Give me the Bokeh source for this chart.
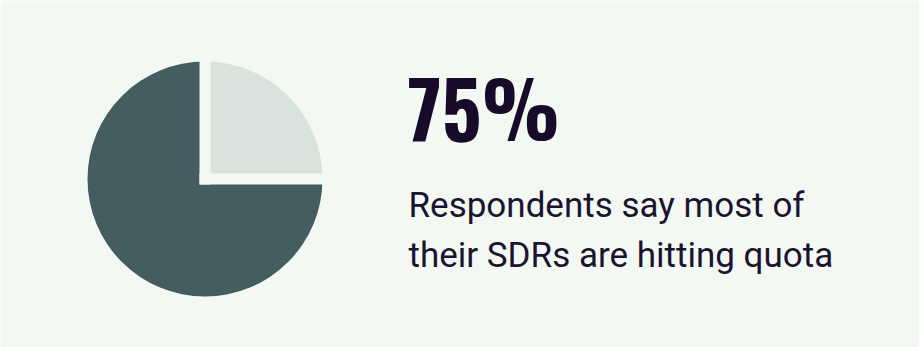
from bokeh.plotting import figure
from bokeh.models import Range1d
from bokeh.core.properties import value
from bokeh.embed import file_html
from bokeh.resources import INLINE
import math

# data
labels = ["Hitting quota", "Not hitting quota"]
shares = [75, 25]
colors = ["#435d61", "#d9e3de"]
headline = "75%"
subtitle_lines = ["Respondents say most of", "their SDRs are hitting quota"]

BG = "#f3f9f2"
W, H = 919, 347

p = figure(width=W, height=H, output_backend="svg", toolbar_location=None,
           x_range=Range1d(0, W), y_range=Range1d(0, H), min_border=0)
p.axis.visible = False
p.grid.visible = False
p.outline_line_color = None
p.background_fill_color = BG
p.border_fill_color = BG

cx, cy, r = 204.5, 168.5, 117.5
gap = 11
total = sum(shares)
light_start = 0.0
light_end = light_start + 2 * math.pi * shares[1] / total
dark_start = light_end
dark_end = light_start + 2 * math.pi
p.wedge(x=[cx, cx], y=[cy, cy], radius=r,
        start_angle=[dark_start, light_start], end_angle=[dark_end, light_end],
        fill_color=[colors[0], colors[1]], line_color=None)

bounds = [light_start, light_end]
p.segment(x0=[cx - gap / 2 * math.cos(a) for a in bounds],
          y0=[cy - gap / 2 * math.sin(a) for a in bounds],
          x1=[cx + (r + 2) * math.cos(a) for a in bounds],
          y1=[cy + (r + 2) * math.sin(a) for a in bounds],
          line_color=BG, line_width=gap, line_cap="butt")

p.text(x=[407], y=[242], text=[headline], text_font=value("Oswald"),
       text_font_style="bold", text_font_size="78px", text_color="#170b29",
       text_baseline="alphabetic", text_align="left")

p.text(x=[408, 408], y=[142, 92], text=subtitle_lines, text_font=value("Roboto"),
       text_font_size="35px", text_color="#1c1330",
       text_baseline="alphabetic", text_align="left")

open("out.html", "w").write(file_html(p, INLINE))
